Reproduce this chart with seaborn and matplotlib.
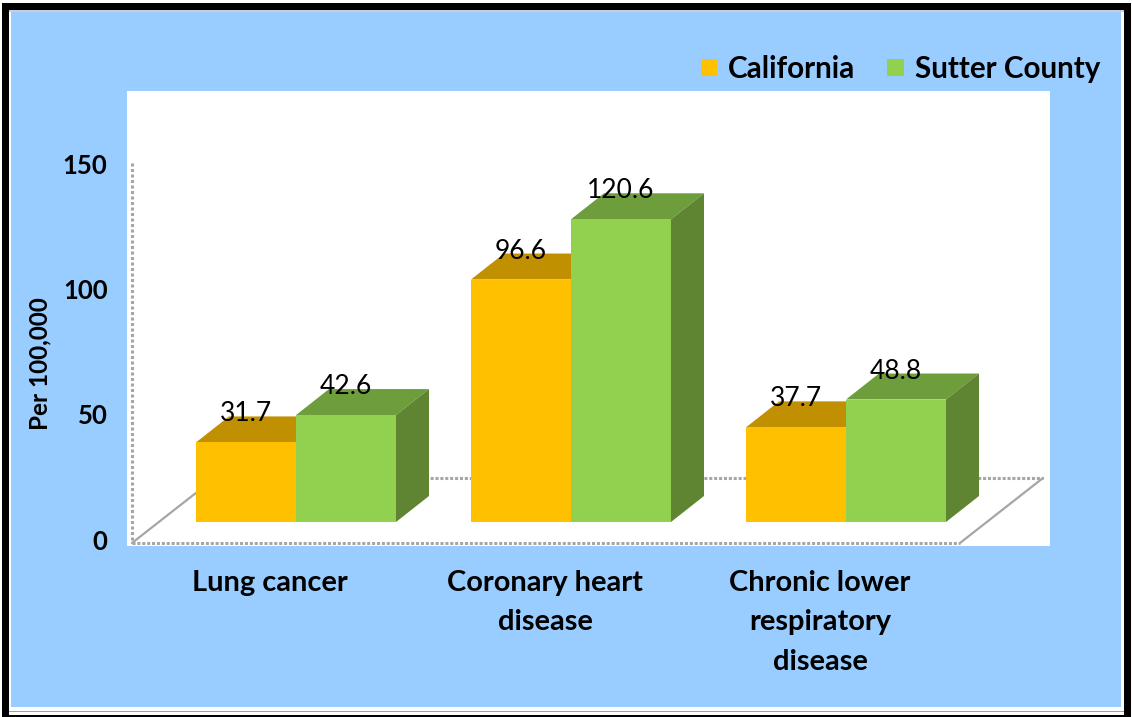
import seaborn as sns
import pandas as pd
import matplotlib.pyplot as plt
from matplotlib.patches import Polygon, Rectangle
from matplotlib.transforms import Affine2D, ScaledTranslation

categories = ['Lung cancer', 'Coronary heart\ndisease', 'Chronic lower\nrespiratory\ndisease']
california = [31.7, 96.6, 37.7]
sutter = [42.6, 120.6, 48.8]
series_names = ['California', 'Sutter County']
y_ticks = [0, 50, 100, 150]

W, H = 1132, 717
front_colors = ['#FFC000', '#92D050']
top_colors = ['#C09000', '#6E9D3C']
side_colors = ['#A87E00', '#5F8432']

df = pd.DataFrame({
    'category': categories * 2,
    'series': [series_names[0]] * 3 + [series_names[1]] * 3,
    'value': california + sutter,
})

sns.set_theme(style='white')
plt.rcParams['font.family'] = ['Lato', 'DejaVu Sans']

fig = plt.figure(figsize=(W / 100, H / 100), dpi=100, facecolor='white')
px = Affine2D().scale(1 / W, -1 / H).translate(0, 1) + fig.transFigure

# frame around the chart, in pixels
for x0, y0, x1, y1, c in [(2, 3, 1131, 717, 'black'), (9, 10, 1124, 715, 'white'),
                          (9, 711, 1124, 712, '#A0A0A0'), (9, 10, 1124, 12, '#C8CCE0'),
                          (11, 12, 1121, 707, '#99CCFF')]:
    fig.patches.append(Rectangle((x0, y0), x1 - x0, y1 - y0, transform=px, facecolor=c,
                                 edgecolor='none', zorder=-1, figure=fig))

# white plot area
ax = fig.add_axes([127 / W, 1 - 546 / H, 923 / W, 455 / H])
sns.barplot(data=df, x='category', y='value', hue='series', hue_order=series_names,
            palette=front_colors, width=200 / 275, gap=0, saturation=1, errorbar=None,
            linewidth=0, ax=ax)
ax.set_xlim((127 - 296) / 275, (1050 - 296) / 275)
ax.set_ylim((522 - 546) / 2.51, (522 - 91) / 2.51)
sns.despine(ax=ax, left=True, bottom=True, top=True, right=True)

# floor and wall lines
grey = '#A6A6A6'
for (xa, ya), (xb, yb), ls in [((132, 163), (132, 543), (0, (1, 0.8))),
                               ((132, 543), (960, 543), (0, (1, 0.6))),
                               ((215, 478), (1043, 478), (0, (1, 0.6))),
                               ((132, 543), (215, 478), '-'),
                               ((960, 543), (1043, 478), '-')]:
    ax.plot([xa, xb], [ya, yb], transform=px, color=grey, lw=2.2 if ls != '-' else 1.6,
            ls=ls, clip_on=False, zorder=0.5)

# depth of the fake 3D boxes
dx = 33 / 275
dy = 26 / 2.51
for i, cont in enumerate(ax.containers):
    for bar in cont:
        x0, w, h = bar.get_x(), bar.get_width(), bar.get_height()
        bar.set_zorder(1.1 + i)
        ax.add_patch(Polygon([(x0, h), (x0 + w, h), (x0 + w + dx, h + dy), (x0 + dx, h + dy)],
                             facecolor=top_colors[i], edgecolor='none', zorder=1 + i))
        ax.add_patch(Polygon([(x0 + w, 0), (x0 + w, h), (x0 + w + dx, h + dy), (x0 + w + dx, dy)],
                             facecolor=side_colors[i], edgecolor='none', zorder=1 + i))
    ax.bar_label(cont, fmt='%.1f', padding=11.5, fontsize=19, color='black', zorder=5)

# axis labels
ax.set_yticks(y_ticks)
ax.set_yticklabels(y_ticks, fontsize=18.5, fontweight='bold', color='black')
ax.tick_params(axis='y', length=0, pad=14)
for lab in ax.get_yticklabels():
    lab.set_transform(lab.get_transform() + ScaledTranslation(0, -18 / 100, fig.dpi_scale_trans))
ax.set_xlabel('')
ax.set_ylabel('Per 100,000', fontsize=17.5, fontweight='bold', color='black', va='center')
ax.yaxis.set_label_coords((40 - 127) / 923, (546 - 364) / 455)
ax.tick_params(axis='x', length=0, pad=17)
ax.set_xticks(range(3))
ax.set_xticklabels(categories, fontsize=20.9, fontweight='bold', color='black', linespacing=1.65)
for lab in ax.get_xticklabels():
    lab.set_transform(lab.get_transform() + ScaledTranslation(-26 / 100, 0, fig.dpi_scale_trans))

handles, labels = ax.get_legend_handles_labels()
ax.legend(handles, labels, ncol=2, frameon=False, loc='center right',
          bbox_to_anchor=(1100, 69), bbox_transform=px, borderpad=0, borderaxespad=0,
          handlelength=0.55, handleheight=0.55, handletextpad=0.37, columnspacing=1.08,
          labelcolor='black', prop={'size': 21.3, 'weight': 'bold'})

fig.savefig('out.png', dpi=100, facecolor=fig.get_facecolor())
